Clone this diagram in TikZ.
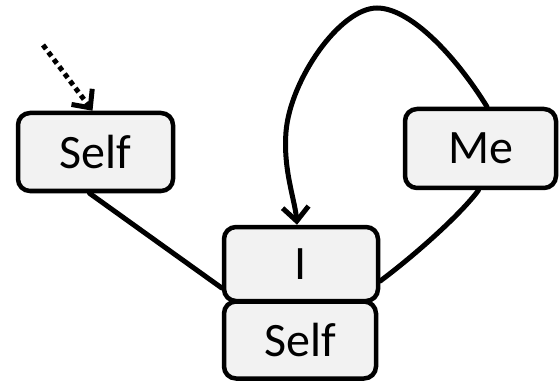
\documentclass[tikz,border=0pt]{standalone}
\usepackage{fontspec}
\setmainfont{Carlito}
\usetikzlibrary{arrows.meta}
\definecolor{boxfill}{HTML}{F2F2F2}
\begin{document}
\begin{tikzpicture}[x=1pt,y=-1pt,
  wbox/.style={draw=black,line width=4.5pt,fill=boxfill,rounded corners=12pt,
    inner sep=0pt,font=\fontsize{48}{56}\selectfont},
  conn/.style={line width=5pt,line cap=round},
  barb/.style={-{Straight Barb[length=14pt,width=26pt,line width=5pt]}}]
\useasboundingbox (0,0) rectangle (559,382);
\node[wbox,minimum width=155pt,minimum height=78pt] (self1) at (95.5,152) {Self};
\node[wbox,minimum width=151pt,minimum height=79pt] (me) at (480.5,148.5) {Me};
\node[wbox,minimum width=154pt,minimum height=74pt] (i) at (301,264) {I};
\node[wbox,minimum width=152pt,minimum height=77pt] (self2) at (300,340) {Self};
\coordinate (dstart) at (43,45);
\draw[conn,line cap=butt,dash pattern=on 5pt off 4pt,barb] (dstart) -- ([xshift=-3pt]self1.north);
\draw[conn] ([xshift=-6pt]self1.south) -- ([yshift=-24pt]i.west);
\draw[conn] ([xshift=-2pt]me.south) .. controls (460,215) and (415,255) .. ([yshift=-17pt]i.east);
\draw[conn,barb] ([xshift=6.5pt]me.north) .. controls (455,55) and (410,8) .. (377,8)
  .. controls (340,8) and (290,80) .. (286,132)
  .. controls (283,170) and (295,200) .. ([xshift=-4pt]i.north);
\end{tikzpicture}
\end{document}
